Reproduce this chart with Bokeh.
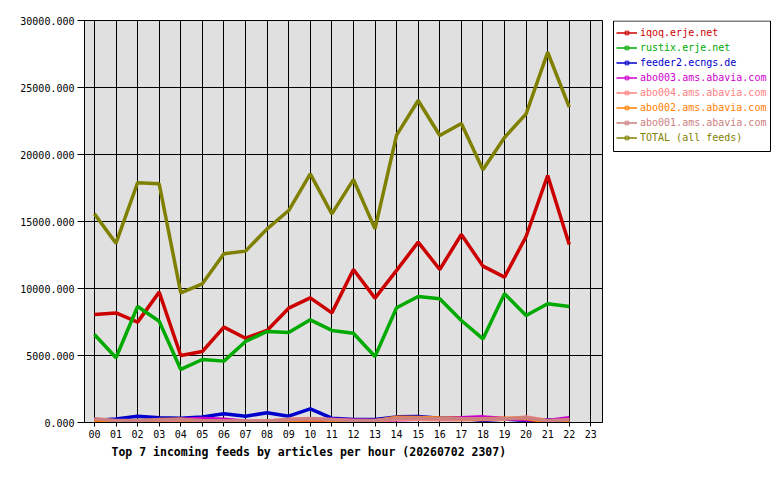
from bokeh.plotting import figure
from bokeh.layouts import row
from bokeh.models import (Range1d, FixedTicker, PrintfTickFormatter, Legend, LegendItem,
                          BoxAnnotation, Title)
from bokeh.embed import file_html
from bokeh.resources import INLINE

hours = list(range(23))
tick_hours = list(range(24))
hour_labels = [f"{h:02d}" for h in tick_hours]
y_ticks = [0, 5000, 10000, 15000, 20000, 25000, 30000]

iqoq = [8060, 8180, 7490, 9730, 5000, 5300, 7120, 6290, 6870, 8530, 9300, 8180,
        11420, 9280, 11350, 13460, 11420, 14030, 11670, 10850, 13880, 18430, 13280]
rustix = [6570, 4830, 8660, 7560, 3960, 4700, 4580, 6050, 6790, 6720, 7660, 6870,
          6660, 4930, 8560, 9400, 9230, 7610, 6240, 9600, 7990, 8860, 8660]
feeder2 = [150, 270, 470, 350, 320, 420, 650, 470, 720, 470, 1020, 320,
           220, 220, 420, 450, 320, 320, 150, 270, 150, 200, 75]
abo003 = [50, 80, 100, 150, 250, 300, 250, 100, 50, 20, 40, 250,
          180, 150, 200, 250, 280, 350, 420, 300, 200, 150, 350]
abo004 = [200, 100, 80, 120, 150, 100, 80, 80, 100, 250, 300, 200,
          100, 120, 250, 250, 200, 200, 220, 250, 420, 150, 150]
abo002 = [100, 50, 80, 230, 250, 100, 80, 60, 80, 150, 200, 180,
          100, 120, 400, 380, 330, 300, 280, 320, 300, 30, 50]
abo001 = [274, 150, 150, 200, 220, 150, 120, 120, 120, 200, 274, 220,
          150, 150, 323, 323, 274, 274, 274, 274, 348, 120, 220]
total = [15570, 13380, 17890, 17810, 9680, 10350, 12590, 12790, 14450, 15820, 18560, 15570,
         18130, 14450, 21450, 24030, 21420, 22310, 18860, 21270, 23030, 27630, 23530]

series_names = ["iqoq.erje.net", "rustix.erje.net", "feeder2.ecngs.de",
                "abo003.ams.abavia.com", "abo004.ams.abavia.com",
                "abo002.ams.abavia.com", "abo001.ams.abavia.com", "TOTAL (all feeds)"]
series_values = [iqoq, rustix, feeder2, abo003, abo004, abo002, abo001, total]
series_colors = ["#cc0000", "#00aa00", "#0000cc", "#cc00cc", "#ff8080",
                 "#ff8000", "#cc8080", "#808000"]

title_text = "Top 7 incoming feeds by articles per hour (20260702 2307)"

MONO = "DejaVu Sans Mono"
LINE_W = 3.5

# ---------------- main chart ----------------
p = figure(width=605, height=480, output_backend="svg", toolbar_location=None,
           x_range=Range1d(-0.46, 23.54), y_range=Range1d(0, 30000),
           min_border_left=84, min_border_right=3, min_border_top=20,
           min_border_bottom=58)
p.background_fill_color = "#e0e0e0"
p.border_fill_color = "white"
p.outline_line_color = "black"
p.outline_line_width = 1
p.outline_line_alpha = 1

p.xgrid.ticker = FixedTicker(ticks=tick_hours)
p.ygrid.ticker = FixedTicker(ticks=y_ticks)
for g in (p.xgrid, p.ygrid):
    g.grid_line_color = "black"
    g.grid_line_alpha = 1
    g.grid_line_width = 1

p.xaxis.ticker = FixedTicker(ticks=tick_hours)
p.xaxis.major_label_overrides = {h: lbl for h, lbl in zip(tick_hours, hour_labels)}
p.yaxis.ticker = FixedTicker(ticks=y_ticks)
p.yaxis.formatter = PrintfTickFormatter(format="%.3f")
for ax in (p.xaxis, p.yaxis):
    ax.axis_line_color = "black"
    ax.major_tick_line_color = "black"
    ax.minor_tick_line_color = None
    ax.major_tick_in = 0
    ax.major_label_text_font = MONO
    ax.major_label_text_font_size = "10px"
    ax.major_label_text_color = "black"
p.xaxis.major_tick_out = 4
p.xaxis.major_label_standoff = 3
p.yaxis.major_tick_out = 7
p.yaxis.major_label_standoff = 3

for vals, col in zip(series_values, series_colors):
    p.line(hours, vals, line_color=col, line_width=LINE_W)

t = Title(text=title_text, align="left", offset=27, text_font=MONO,
          text_font_size="11.5px", text_font_style="bold", text_color="black",
          standoff=4)
p.add_layout(t, "below")

# ---------------- legend panel ----------------
# the row aligns this panel's frame with the main frame (bottom edge at y=422)
FB = 422
q = figure(width=175, height=480, output_backend="svg", toolbar_location=None,
           x_range=Range1d(0, 1), y_range=Range1d(0, 1),
           x_axis_location=None, y_axis_location=None,
           min_border_left=0, min_border_right=0, min_border_top=0,
           min_border_bottom=0)
q.outline_line_color = None
q.background_fill_color = "white"
q.border_fill_color = "white"
q.xgrid.visible = False
q.ygrid.visible = False

box = BoxAnnotation(left=8, right=165, bottom=FB - 151, top=FB - 20.5,
                    left_units="screen", right_units="screen",
                    bottom_units="screen", top_units="screen",
                    fill_alpha=0, line_color="black", line_width=1, line_alpha=1)
q.add_layout(box)

# off-screen proxy glyphs, used only to draw the legend swatches
proxy_x = [-10, -9]
proxy_y = [-10, -10]
for i, (name, col) in enumerate(zip(series_names, series_colors)):
    ln = q.line(x=proxy_x, y=proxy_y, line_color=col, line_width=1.5)
    sq = q.scatter(x=proxy_x, y=proxy_y, marker="square", size=4, line_color=col,
                   fill_color=None, line_width=1)
    centre = 32.3 + 15 * i
    bottom = centre + 7.5
    lg = Legend(items=[LegendItem(label=name, renderers=[ln, sq])],
                location=(11, FB - bottom),
                padding=0, margin=0, spacing=0,
                border_line_alpha=0, background_fill_alpha=0,
                glyph_width=21, glyph_height=9, label_height=15,
                label_standoff=3, label_text_font=MONO,
                label_text_font_size="10px", label_text_color=col)
    q.add_layout(lg)

layout = row(p, q, spacing=0)
open("out.html", "w").write(file_html(layout, INLINE))
